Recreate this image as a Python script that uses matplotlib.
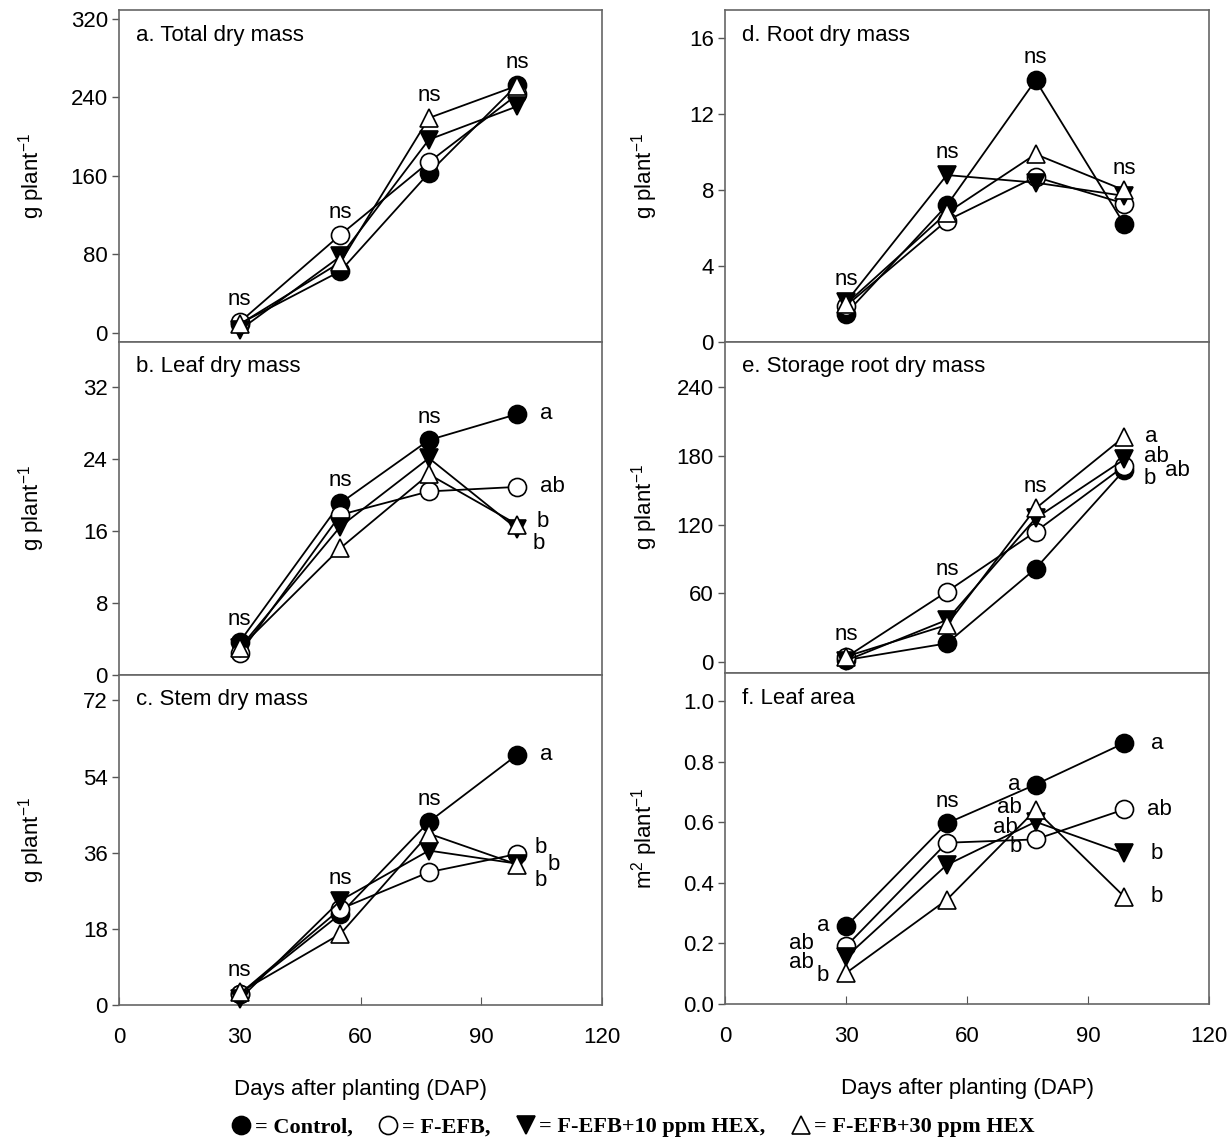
import matplotlib
matplotlib.use('Agg')
import matplotlib.pyplot as plt
from matplotlib.lines import Line2D

plt.rcParams['font.family'] = ['Liberation Sans', 'DejaVu Sans']
plt.rcParams['mathtext.default'] = 'regular'

# Data
dap = [30, 55, 77, 99]
treatments = ['Control', 'F-EFB', 'F-EFB+10 ppm HEX', 'F-EFB+30 ppm HEX']

# rows: Control, F-EFB, F-EFB+10 ppm HEX, F-EFB+30 ppm HEX
total_dry = [[9.5, 63, 163, 253], [11, 100, 174, 243], [3, 78, 197, 231], [9, 72, 219, 252]]
leaf_dry = [[3.7, 19.1, 26.1, 29.0], [2.4, 17.8, 20.4, 20.9], [3.0, 16.5, 24.1, 16.2], [3.0, 14.1, 22.3, 16.7]]
stem_dry = [[2.6, 21.5, 43.3, 59.2], [2.6, 22.7, 31.4, 35.7], [1.4, 24.7, 36.5, 33.4], [3.0, 16.8, 40.5, 33.2]]
root_dry = [[1.5, 7.2, 13.8, 6.2], [1.9, 6.4, 8.7, 7.3], [2.1, 8.8, 8.4, 7.7], [2.0, 6.8, 9.9, 8.0]]
storage_dry = [[2, 16.5, 81.6, 167.5], [4.4, 61.5, 113.8, 171], [1.5, 36.9, 125.4, 176.8], [5, 32.5, 134, 196.5]]
leaf_area = [[0.256, 0.596, 0.724, 0.861], [0.19, 0.532, 0.543, 0.642], [0.155, 0.459, 0.601, 0.497], [0.102, 0.344, 0.64, 0.354]]

# significance labels: (treatment, dap index, text, dx pt, dy pt, ha)
ns_a, ns_b, ns_c = [0, 1, 2, 3], [0, 1, 2], [0, 1, 2]
ns_d, ns_e, ns_f = [0, 1, 2, 3], [0, 1, 2], [1]
let_b = [(0, 3, 'a', 16, 0, 'left'), (1, 3, 'ab', 16, 0, 'left'),
         (3, 3, 'b', 14, 2, 'left'), (2, 3, 'b', 11, -10, 'left')]
let_c = [(0, 3, 'a', 16, 0, 'left'), (1, 3, 'b', 12, 5, 'left'),
         (3, 3, 'b', 22, 0, 'left'), (2, 3, 'b', 12, -12, 'left')]
let_e = [(3, 3, 'a', 15, 0, 'left'), (2, 3, 'ab', 14, 2, 'left'),
         (0, 3, 'b', 14, -6, 'left'), (1, 3, 'ab', 29, -3, 'left')]
let_f = [(0, 0, 'a', -12, 1, 'right'), (1, 0, 'ab', -23, 2, 'right'),
         (2, 0, 'ab', -23, -4, 'right'), (3, 0, 'b', -12, -2, 'right'),
         (0, 2, 'a', -11, 0, 'right'), (3, 2, 'ab', -10, 2, 'right'),
         (2, 2, 'ab', -13, -4, 'right'), (1, 2, 'b', -10, -5, 'right'),
         (0, 3, 'a', 19, 0, 'left'), (1, 3, 'ab', 16, 0, 'left'),
         (2, 3, 'b', 19, 0, 'left'), (3, 3, 'b', 19, 0, 'left')]

styles = [dict(marker='o', mfc='black'), dict(marker='o', mfc='white'),
          dict(marker='v', mfc='black'), dict(marker='^', mfc='white')]

W, H = 1228, 1140
fig = plt.figure(figsize=(W / 100, H / 100), dpi=100)
FS = 16


def px_axes(x0, y0, x1, y1):
    return fig.add_axes([x0 / W, 1 - y1 / H, (x1 - x0) / W, (y1 - y0) / H])


def panel(ax, data, title, ylim, yticks, ylabel, ns, letters, bottom, lab_x):
    for vals, st in zip(data, styles):
        ax.plot(dap, vals, color='black', lw=1.3, ms=13, mec='black', mew=1.2,
                clip_on=False, zorder=3, **st)
    for j in ns:
        top = max(v[j] for v in data)
        ax.annotate('ns', xy=(dap[j], top), xytext=(0, 16), textcoords='offset points',
                    ha='center', va='center', fontsize=FS)
    for i, j, t, dx, dy, ha in letters:
        ax.annotate(t, xy=(dap[j], data[i][j]), xytext=(dx, dy), textcoords='offset points',
                    ha=ha, va='center', fontsize=FS)
    ax.set_xlim(0, 120)
    ax.set_ylim(*ylim)
    ax.set_yticks(yticks)
    ax.set_ylabel(ylabel, fontsize=FS)
    ax.yaxis.set_label_coords(lab_x, 0.5)
    ax.tick_params(axis='y', direction='out', length=5, width=1, color='#555555',
                   labelsize=FS, pad=3)
    ax.annotate(title, xy=(0, 1), xycoords='axes fraction', xytext=(12, -18),
                textcoords='offset points', ha='left', va='center', fontsize=FS)
    for s in ax.spines.values():
        s.set_color('#666666')
        s.set_linewidth(1.2)
    if bottom:
        ax.set_xticks([0, 30, 60, 90, 120])
        ax.tick_params(axis='x', direction='in', length=6, color='#555555',
                       labelsize=FS, pad=16)
        ax.set_xlabel('Days after planting (DAP)', fontsize=FS, labelpad=22)
    else:
        ax.set_xticks([])


gl = 'g plant$^{-1}$'
ax_a = px_axes(119, 10, 602, 342)
ax_b = px_axes(119, 342, 602, 675)
ax_c = px_axes(119, 675, 602, 1005)
ax_d = px_axes(725, 10, 1209, 342)
ax_e = px_axes(725, 342, 1209, 673)
ax_f = px_axes(725, 673, 1209, 1004)

LX, RX = -0.15, -0.135
panel(ax_a, total_dry, 'a. Total dry mass', (-9.2, 329), [0, 80, 160, 240, 320], gl, ns_a, [], False, LX)
panel(ax_b, leaf_dry, 'b. Leaf dry mass', (0, 37), [0, 8, 16, 24, 32], gl, ns_b, let_b, False, LX)
panel(ax_c, stem_dry, 'c. Stem dry mass', (0, 78), [0, 18, 36, 54, 72], gl, ns_c, let_c, True, LX)
panel(ax_d, root_dry, 'd. Root dry mass', (0, 17.5), [0, 4, 8, 12, 16], gl, ns_d, [], False, RX)
panel(ax_e, storage_dry, 'e. Storage root dry mass', (-9.3, 279), [0, 60, 120, 180, 240], gl, ns_e, let_e, False, RX)
panel(ax_f, leaf_area, 'f. Leaf area', (0, 1.092), [0.0, 0.2, 0.4, 0.6, 0.8, 1.0],
      'm$^{2}$ plant$^{-1}$', ns_f, let_f, True, RX)
ax_f.set_yticklabels(['0.0', '0.2', '0.4', '0.6', '0.8', '1.0'])

handles = [Line2D([], [], ls='none', color='black', ms=13, mec='black', mew=1.2, **st) for st in styles]
labels = ['= ' + t + ',' for t in treatments[:-1]] + ['= ' + treatments[-1]]
fig.legend(handles, labels, loc='center', bbox_to_anchor=(0.516, 1 - 1127 / H), ncol=4,
           frameon=False, handlelength=0.8, handletextpad=0.2, columnspacing=1.2,
           borderpad=0.1, prop={'family': 'Liberation Serif', 'weight': 'bold', 'size': 16})

fig.savefig('out.png', dpi=100)
